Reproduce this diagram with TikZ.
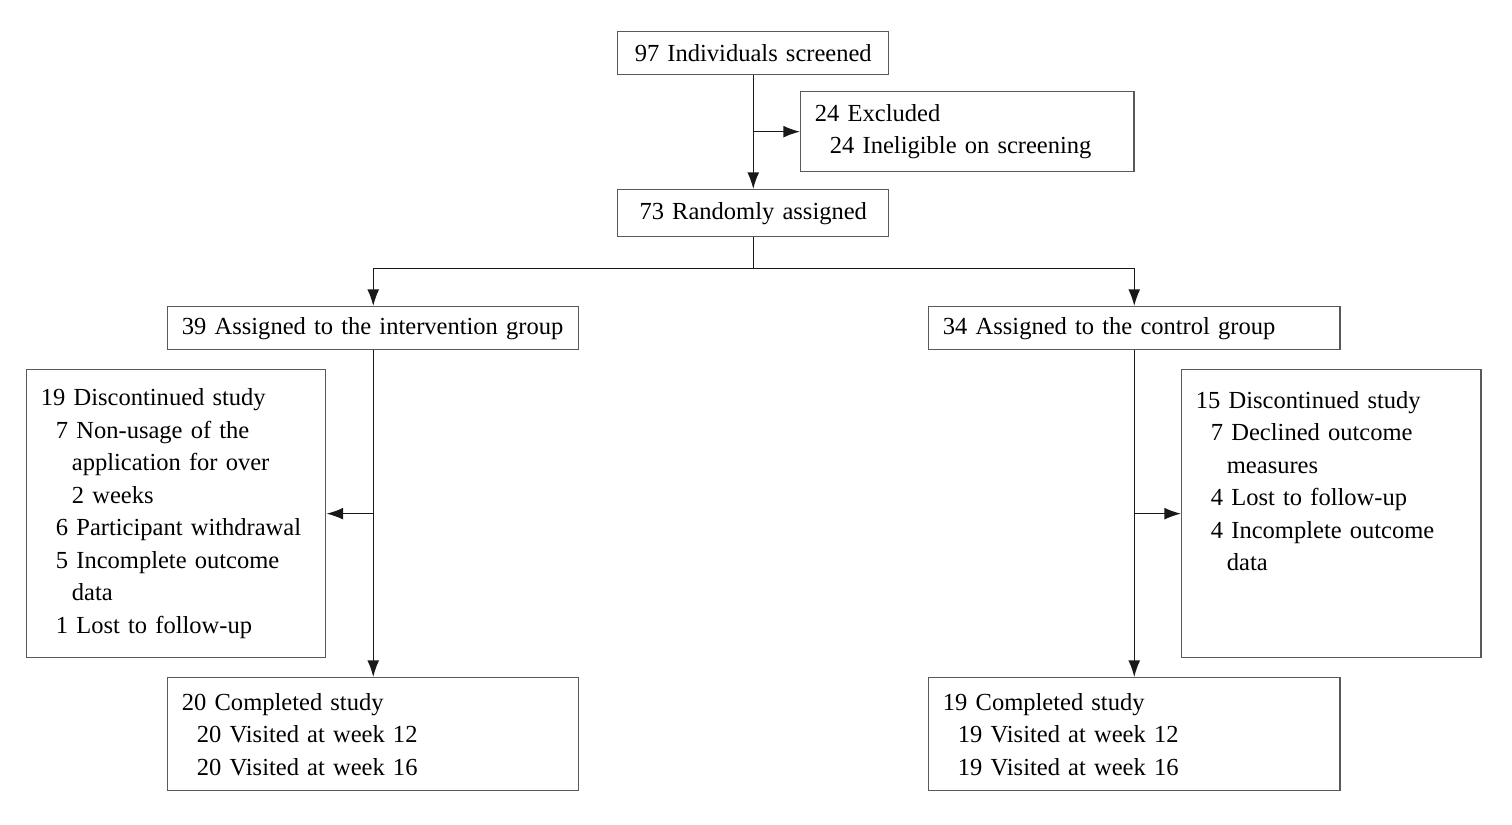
\documentclass[tikz,border=0pt]{standalone}
\usepackage{fontspec}
\setmainfont{Liberation Serif}
\usetikzlibrary{arrows.meta}
\tikzset{
  box/.style={draw=black!65, line width=0.55pt, anchor=north west, align=left,
    inner xsep=6pt, inner ysep=0pt, font=\fontsize{10.3}{13.65}\selectfont},
  flow/.style={black!90, line width=0.6pt},
  arr/.style={flow, -{Latex[length=7pt,width=5pt]}}
}
\newcommand{\ind}{\hspace*{6.3pt}}
\newcommand{\indd}{\hspace*{13pt}}

\begin{document}
\begin{tikzpicture}[x=0.42pt, y=-0.42pt]
\useasboundingbox (0,0) rectangle (1512,824);
% top part
\node[box, align=center, text width=242.6*0.42pt, minimum height=43*0.42pt] (screened) at (617,31) {\mbox{97 Individuals screened}};
\node[box, text width=304.6*0.42pt, minimum height=80*0.42pt] (excluded) at (800,91) {24 Excluded\\ \ind 24 Ineligible on screening};
\node[box, align=center, text width=242.6*0.42pt, minimum height=47*0.42pt] (random) at (617,189) {73 Randomly assigned};
% groups
\node[box, text width=382.6*0.42pt, minimum height=43*0.42pt] (interv) at (167,306) {\mbox{39 Assigned to the intervention group}};
\node[box, text width=382.6*0.42pt, minimum height=43*0.42pt] (control) at (928,306) {34 Assigned to the control group};
% discontinued
\node[box, text width=270.6*0.42pt, minimum height=288*0.42pt] (discL) at (26,369) {19 Discontinued study\\
\ind 7 Non-usage of the\\ \indd application for over\\ \indd 2 weeks\\
\ind \mbox{6 Participant withdrawal}\\ \ind 5 Incomplete outcome\\ \indd data\\ \ind 1 Lost to follow-up};
\node[box, text width=270.6*0.42pt, minimum height=288*0.42pt] (discR) at (1181,369) {15 Discontinued study\\
\ind 7 Declined outcome\\ \indd measures\\ \ind 4 Lost to follow-up\\
\ind 4 Incomplete outcome\\ \indd data\\ ~\\ ~};
% completed
\node[box, text width=382.6*0.42pt, minimum height=113*0.42pt] (compL) at (167,677) {20 Completed study\\ \ind 20 Visited at week 12\\ \ind 20 Visited at week 16};
\node[box, text width=382.6*0.42pt, minimum height=113*0.42pt] (compR) at (928,677) {19 Completed study\\ \ind 19 Visited at week 12\\ \ind 19 Visited at week 16};

\draw[arr] (screened.south) -- (random.north);
\draw[arr] (screened.south |- excluded.west) -- (excluded.west);
\coordinate (split) at ([yshift=-31*0.42pt]random.south);
\draw[flow] (random.south) -- (split);
\draw[arr] (split) -| (interv.north);
\draw[arr] (split) -| (control.north);
\draw[arr] (interv.south) -- (compL.north);
\draw[arr] (interv.south |- discL.east) -- (discL.east);
\draw[arr] (control.south) -- (compR.north);
\draw[arr] (control.south |- discR.west) -- (discR.west);
\end{tikzpicture}
\end{document}
